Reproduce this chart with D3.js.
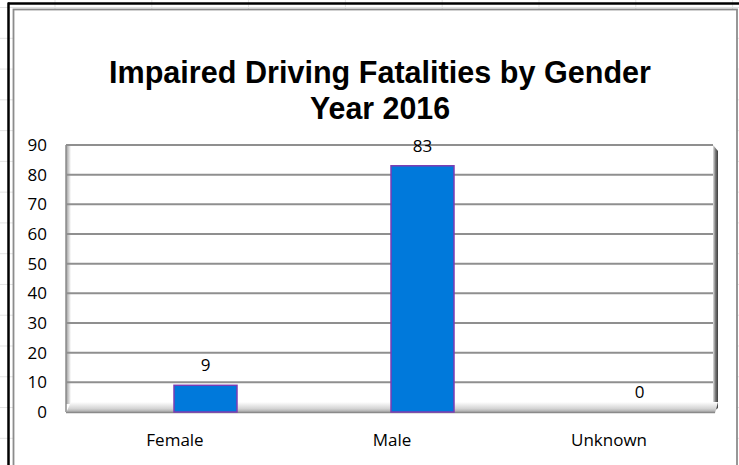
<!DOCTYPE html>
<html>
<head>
<meta charset="UTF-8">
<title>Impaired Driving Fatalities by Gender</title>
<script src="https://cdn.jsdelivr.net/npm/d3@7/dist/d3.min.js"></script>
<style>
  body { margin: 0; background: #fff; }
  svg { display: block; }
  text { font-family: "Open Sans", "DejaVu Sans", sans-serif; fill: #000; }
</style>
</head>
<body>
<script>

// chart values
var categories = ["Female", "Male", "Unknown"];
var fatalities = [9, 83, 0];
var yTicks = [0, 10, 20, 30, 40, 50, 60, 70, 80, 90];
var titleLines = ["Impaired Driving Fatalities by Gender", "Year 2016"];

var W = 739, H = 465;
var svg = d3.select("body").append("svg")
            .attr("width", W)
            .attr("height", H);

var defs = svg.append("defs");

//Gradients for the fake 3D walls / floor.
var gLeft = defs.append("linearGradient").attr("id", "leftWall")
                .attr("x1", 0).attr("x2", 1).attr("y1", 0).attr("y2", 0);
gLeft.append("stop").attr("offset", 0).attr("stop-color", "#9a9a9a");
gLeft.append("stop").attr("offset", 1).attr("stop-color", "#ffffff");

var gRight = defs.append("linearGradient").attr("id", "rightWall")
                 .attr("x1", 0).attr("x2", 1).attr("y1", 0).attr("y2", 0);
gRight.append("stop").attr("offset", 0).attr("stop-color", "#e0e0e0");
gRight.append("stop").attr("offset", 0.5).attr("stop-color", "#7a7a7a");
gRight.append("stop").attr("offset", 1).attr("stop-color", "#3c3c3c");

var gFloor = defs.append("linearGradient").attr("id", "floor")
                 .attr("x1", 0).attr("x2", 0).attr("y1", 0).attr("y2", 1);
gFloor.append("stop").attr("offset", 0).attr("stop-color", "#ffffff");
gFloor.append("stop").attr("offset", 0.6).attr("stop-color", "#d4d4d4");
gFloor.append("stop").attr("offset", 1).attr("stop-color", "#9c9c9c");

//Spreadsheet cells behind the chart object.
var colStep = 96.8, rowStep = 30.77;
svg.append("g").selectAll("line.col")
   .data(d3.range(-1, 8).map(function(i) { return 55 + i * colStep; }))
   .join("line")
     .attr("x1", function(d) { return d; }).attr("x2", function(d) { return d; })
     .attr("y1", 0).attr("y2", H)
     .attr("stroke", "#e3e3e3").attr("stroke-width", 1);
svg.append("g").selectAll("line.row")
   .data(d3.range(-1, 15).map(function(i) { return 38.3 + i * rowStep; }))
   .join("line")
     .attr("x1", 0).attr("x2", W)
     .attr("y1", function(d) { return d; }).attr("y2", function(d) { return d; })
     .attr("stroke", "#e3e3e3").attr("stroke-width", 1);

//Selection outline and chart frame.
svg.append("line").attr("x1", 8).attr("x2", W).attr("y1", 3.5).attr("y2", 3.5)
   .attr("stroke", "#000").attr("stroke-width", 2.5);
svg.append("line").attr("x1", 8.5).attr("x2", 8.5).attr("y1", 2.5).attr("y2", H)
   .attr("stroke", "#000").attr("stroke-width", 2.5);
svg.append("rect")
   .attr("x", 13.5).attr("y", 9.5)
   .attr("width", 737 - 13.5).attr("height", H)
   .attr("fill", "#fff")
   .attr("stroke", "#8c8c8c").attr("stroke-width", 1.8);

//Plot area geometry.
var plotL = 66, plotR = 713, plotT = 145, plotB = 412;
var depth = 31; //bars sit on the back plane, labels on the front

var y = d3.scaleLinear().domain([0, 90]).range([plotB, plotT]);
var x = d3.scalePoint().domain(categories).range([plotL, plotR + 4]).padding(0.5);
var barW = 63;

//Walls and floor.
svg.append("rect").attr("x", plotL).attr("y", plotT)
   .attr("width", 5).attr("height", plotB - plotT - 8)
   .attr("fill", "url(#leftWall)");
svg.append("line").attr("x1", plotL).attr("x2", plotL)
   .attr("y1", plotT).attr("y2", plotB)
   .attr("stroke", "#8c8c8c").attr("stroke-width", 1.5);

svg.append("path")
   .attr("d", "M" + plotR + "," + plotT + " L" + (plotR + 5) + "," + (plotT + 6) +
              " L" + (plotR + 5) + "," + (plotB - 4) + " L" + plotR + "," + plotB + " Z")
   .attr("fill", "url(#rightWall)");

svg.append("path")
   .attr("d", "M" + (plotL + 5) + "," + (plotB - 10) + " L" + (plotR + 5) + "," + (plotB - 10) +
              " L" + (plotR + 2) + "," + (plotB + 1) + " L" + plotL + "," + (plotB + 1) + " Z")
   .attr("fill", "url(#floor)");
svg.append("line").attr("x1", plotL).attr("x2", plotR + 2)
   .attr("y1", plotB + 0.5).attr("y2", plotB + 0.5)
   .attr("stroke", "#8a8a8a").attr("stroke-width", 1.5);

//Gridlines.
svg.append("g").selectAll("line")
   .data(yTicks.filter(function(d) { return d > 0; }))
   .join("line")
     .attr("x1", plotL).attr("x2", plotR)
     .attr("y1", function(d) { return y(d); })
     .attr("y2", function(d) { return y(d); })
     .attr("stroke", "#8f8f8f").attr("stroke-width", 2);

//Y axis labels.
var yAxis = d3.axisLeft(y).tickValues(yTicks).tickSize(0).tickPadding(0);
var yG = svg.append("g").attr("transform", "translate(47,0)").call(yAxis);
yG.select(".domain").remove();
yG.selectAll("text").attr("font-size", 17).attr("font-family", "Open Sans").attr("fill", "#000");

//Bars.
svg.append("g").selectAll("rect")
   .data(fatalities)
   .join("rect")
     .attr("x", function(d, i) { return x(categories[i]) + depth - barW / 2; })
     .attr("y", function(d) { return y(d); })
     .attr("width", barW)
     .attr("height", function(d) { return plotB - y(d); })
     .attr("fill", "#0079db")
     .attr("stroke", "#7b3cb4").attr("stroke-width", 1.5);

//Value labels.
svg.append("g").selectAll("text")
   .data(fatalities)
   .join("text")
     .attr("x", function(d, i) { return x(categories[i]) + depth; })
     .attr("y", function(d) { return y(d) - 14; })
     .attr("text-anchor", "middle")
     .attr("font-size", 17)
     .text(function(d) { return d; });

//Category labels.
var xAxis = d3.axisBottom(x).tickSize(0).tickPadding(0);
var xG = svg.append("g").attr("transform", "translate(0,446)").call(xAxis);
xG.select(".domain").remove();
xG.selectAll("text").attr("dy", 0).attr("font-size", 17)
  .attr("font-family", "Open Sans").attr("fill", "#000");

//Title.
var titleWidths = [542, 140];
svg.append("g").selectAll("text")
   .data(titleLines)
   .join("text")
     .attr("x", 380)
     .attr("y", function(d, i) { return 83 + i * 36; })
     .attr("text-anchor", "middle")
     .style("font-family", "'Liberation Sans', Arial, sans-serif")
     .attr("font-size", 32)
     .attr("font-weight", 700)
     .attr("textLength", function(d, i) { return titleWidths[i]; })
     .attr("lengthAdjust", "spacingAndGlyphs")
     .text(function(d) { return d; });

</script>
</body>
</html>
